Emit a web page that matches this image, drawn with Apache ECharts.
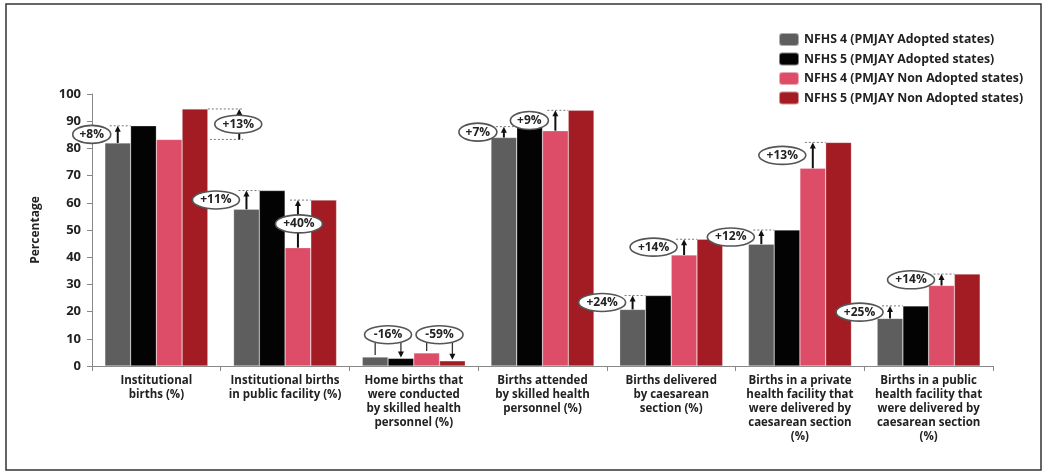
<!DOCTYPE html>
<html>
<head>
<meta charset="utf-8">
<script src="https://cdn.jsdelivr.net/npm/echarts@6/dist/echarts.min.js"></script>
<style>
html,body{margin:0;padding:0;background:#fff;}
#chart{width:1047px;height:473px;}
</style>
</head>
<body>
<div id="chart"></div>
<script>
const categories = [
  "Institutional\nbirths (%)",
  "Institutional births\nin public facility (%)",
  "Home births that\nwere conducted\nby skilled health\npersonnel (%)",
  "Births attended\nby skilled health\npersonnel (%)",
  "Births delivered\nby caesarean\nsection (%)",
  "Births in a private\nhealth facility that\nwere delivered by\ncaesarean section\n(%)",
  "Births in a public\nhealth facility that\nwere delivered by\ncaesarean section\n(%)"
];
const seriesNames = [
  "NFHS 4 (PMJAY Adopted states)",
  "NFHS 5 (PMJAY Adopted states)",
  "NFHS 4 (PMJAY Non Adopted states)",
  "NFHS 5 (PMJAY Non Adopted states)"
];
const nfhs4Adopted    = [82.0, 57.6, 3.3, 84.0, 20.8, 44.8, 17.5];
const nfhs5Adopted    = [88.3, 64.5, 2.8, 88.0, 25.9, 50.0, 22.1];
const nfhs4NonAdopted = [83.3, 43.5, 4.8, 86.5, 40.8, 72.7, 29.6];
const nfhs5NonAdopted = [94.5, 61.0, 1.9, 94.0, 46.6, 82.2, 33.8];
const yTicks = [0, 10, 20, 30, 40, 50, 60, 70, 80, 90, 100];
// [category index, from series, to series, label, placement]
const annotations = [
  [0, 0, 1, "+8%", "left"],
  [0, 2, 3, "+13%", "outside"],
  [1, 0, 1, "+11%", "left"],
  [1, 2, 3, "+40%", "center"],
  [2, 0, 1, "-16%", "bracket"],
  [2, 2, 3, "-59%", "bracket"],
  [3, 0, 1, "+7%", "left"],
  [3, 2, 3, "+9%", "left"],
  [4, 0, 1, "+24%", "left"],
  [4, 2, 3, "+14%", "left"],
  [5, 0, 1, "+12%", "left"],
  [5, 2, 3, "+13%", "left"],
  [6, 0, 1, "+25%", "left"],
  [6, 2, 3, "+14%", "left"]
];

const allSeries = [nfhs4Adopted, nfhs5Adopted, nfhs4NonAdopted, nfhs5NonAdopted];
const colors = ["#5e5e5e", "#030303", "#dd4d68", "#a31c23"];
const FONT = "'Open Sans', 'DejaVu Sans', sans-serif";

function arrowHead(x, y, dir) {
  return {
    type: 'polygon',
    shape: { points: [[x - 3, y - dir * 6], [x + 3, y - dir * 6], [x, y]] },
    style: { fill: '#111' }
  };
}

function renderAnno(params, api) {
  const a = annotations[params.dataIndex];
  const cat = a[0];
  const label = a[3];
  const type = a[4];
  const fromVal = api.value(1);
  const toVal = api.value(2);
  const band = api.size([1, 0])[0];
  const bw = band * 0.2;
  const cx = api.coord([cat, 0])[0];
  const xFrom = cx + (-1.5 + a[1]) * bw;
  const xTo = cx + (-1.5 + a[2]) * bw;
  const yFrom = api.coord([cat, fromVal])[1];
  const yTo = api.coord([cat, toVal])[1];
  const rx = label.length >= 4 ? 23.5 : 19;
  const ry = 9;
  const children = [];
  const dotted = (x1, x2, y) => ({
    type: 'line', shape: { x1: x1, y1: y, x2: x2, y2: y },
    style: { stroke: '#777', lineWidth: 1, lineDash: [2, 2] }
  });
  const vline = (x, y1, y2) => ({
    type: 'line', shape: { x1: x, y1: y1, x2: x, y2: y2 },
    style: { stroke: '#111', lineWidth: 2 }
  });
  let ex, ey;
  if (type === 'bracket') {
    ex = (xFrom + xTo) / 2;
    ey = api.coord([cat, 11.5])[1];
    children.push({ type: 'line', shape: { x1: xFrom, y1: ey + ry - 1, x2: xFrom, y2: yFrom - 2 }, style: { stroke: '#333', lineWidth: 1.3 } });
    children.push({ type: 'line', shape: { x1: xTo, y1: ey + ry - 1, x2: xTo, y2: yTo - 5 }, style: { stroke: '#333', lineWidth: 1.3 } });
    children.push(arrowHead(xTo, yTo - 1, 1));
  } else if (type === 'outside') {
    const ax = xTo + 1.72 * bw;
    children.push(dotted(xTo + bw / 2, ax + 4, yTo));
    children.push(dotted(xTo + bw / 2 + 2, ax + 4, yFrom));
    children.push(vline(ax, yFrom, yTo + 4));
    children.push(arrowHead(ax, yTo, -1));
    ex = ax - 1;
    ey = (yFrom + yTo) / 2;
  } else {
    children.push(dotted(xFrom - 8, xTo - bw / 2, yTo));
    children.push(vline(xFrom, yFrom, yTo + 4));
    children.push(arrowHead(xFrom, yTo, -1));
    ex = type === 'center' ? xFrom + 1 : xFrom - rx - 7;
    ey = (yFrom + yTo) / 2;
  }
  children.push({
    type: 'ellipse',
    shape: { cx: ex, cy: ey, rx: rx, ry: ry },
    style: { fill: '#fff', stroke: '#555', lineWidth: 1.6 }
  });
  children.push({
    type: 'text',
    x: ex, y: ey,
    style: { text: label, fill: '#222', font: 'bold 12px ' + FONT, align: 'center', verticalAlign: 'middle' }
  });
  return { type: 'group', children: children };
}

const chart = echarts.init(document.getElementById('chart'), null, { renderer: 'canvas' });

const barSeries = allSeries.map((d, i) => ({
  name: seriesNames[i],
  type: 'bar',
  data: d,
  barGap: '0%',
  barCategoryGap: '20%',
  itemStyle: { color: colors[i], borderColor: 'rgba(255,255,255,0.5)', borderWidth: 0.5 },
  z: 2
}));

const annoData = annotations.map(a => [a[0], allSeries[a[1]][a[0]], allSeries[a[2]][a[0]]]);

chart.setOption({
  animation: false,
  backgroundColor: '#fff',
  textStyle: { fontFamily: FONT },
  graphic: [{
    type: 'rect',
    shape: { x: 6, y: 4, width: 1035, height: 466 },
    style: { fill: 'none', stroke: '#333', lineWidth: 1.5 },
    silent: true
  }],
  legend: {
    orient: 'vertical',
    left: 778,
    top: 32,
    padding: 0,
    itemWidth: 20,
    itemHeight: 13,
    itemGap: 4.5,
    data: seriesNames,
    textStyle: { fontSize: 12.3, fontWeight: 'bold', color: '#222', fontFamily: FONT }
  },
  grid: { left: 92, right: 54, top: 94, bottom: 107, containLabel: false },
  xAxis: {
    type: 'category',
    data: categories,
    axisLine: { lineStyle: { color: '#888', width: 1 } },
    axisTick: { show: true, length: 5, lineStyle: { color: '#888' } },
    axisLabel: {
      interval: 0, margin: 8, color: '#222', fontSize: 11.5, fontWeight: 'bold',
      lineHeight: 14, fontFamily: FONT
    }
  },
  yAxis: {
    type: 'value',
    min: yTicks[0],
    max: yTicks[yTicks.length - 1],
    interval: yTicks[1] - yTicks[0],
    name: 'Percentage',
    nameLocation: 'middle',
    nameGap: 50,
    nameRotate: 90,
    nameTextStyle: { fontSize: 12, color: '#222', fontWeight: 'bold', fontFamily: FONT },
    axisLine: { show: true, lineStyle: { color: '#888', width: 1 } },
    axisTick: { show: true, length: 5, lineStyle: { color: '#888' } },
    splitLine: { show: false },
    axisLabel: { margin: 11, color: '#222', fontSize: 13, fontWeight: 'bold', fontFamily: FONT }
  },
  series: barSeries.concat([{
    type: 'custom',
    name: 'annotations',
    renderItem: renderAnno,
    data: annoData,
    encode: { x: 0, y: [1, 2] },
    z: 5,
    silent: true
  }])
});
</script>
</body>
</html>
